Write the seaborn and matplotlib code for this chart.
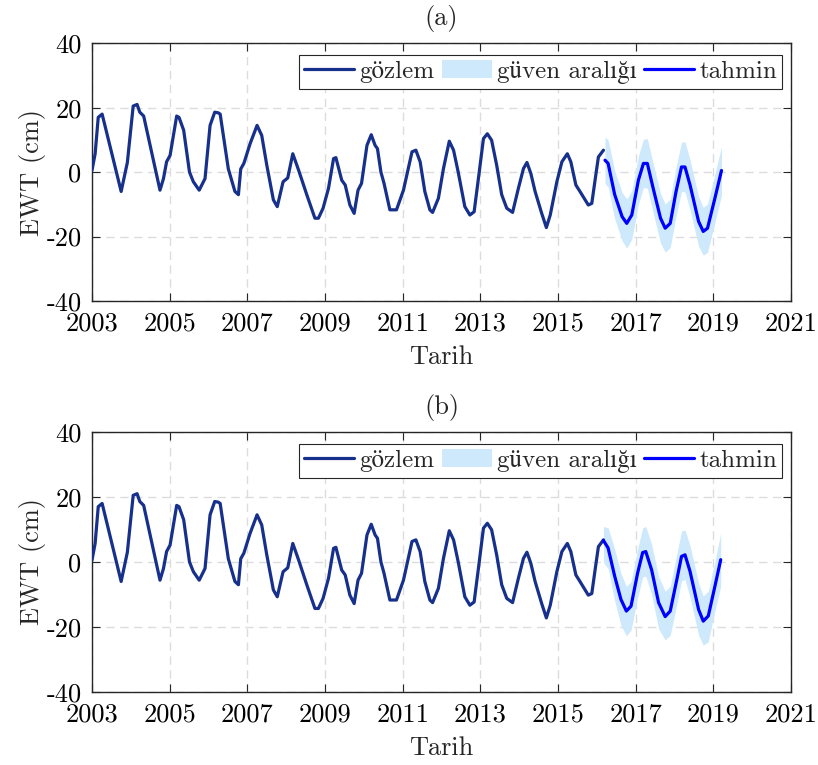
import matplotlib
matplotlib.use("Agg")
import matplotlib.pyplot as plt
import seaborn as sns
from matplotlib.lines import Line2D
from matplotlib.patches import Patch

# gözlenen EWT (cm)
obs_year = [2003.00, 2003.08, 2003.16, 2003.26, 2003.75, 2003.91, 2004.06, 2004.16, 2004.23, 2004.33,
            2004.75, 2004.84, 2004.92, 2005.01, 2005.18, 2005.24, 2005.36, 2005.51, 2005.61, 2005.76,
            2005.91, 2006.04, 2006.16, 2006.25, 2006.30, 2006.51, 2006.68, 2006.77, 2006.83, 2006.91,
            2007.07, 2007.25, 2007.37, 2007.50, 2007.67, 2007.77, 2007.92, 2008.04, 2008.17, 2008.32,
            2008.53, 2008.74, 2008.83, 2008.95, 2009.09, 2009.22, 2009.28, 2009.43, 2009.52, 2009.64,
            2009.75, 2009.85, 2009.94, 2010.08, 2010.19, 2010.29, 2010.35, 2010.44, 2010.52, 2010.67,
            2010.84, 2011.02, 2011.24, 2011.34, 2011.45, 2011.57, 2011.70, 2011.77, 2011.92, 2012.05,
            2012.20, 2012.31, 2012.43, 2012.60, 2012.73, 2012.84, 2012.95, 2013.08, 2013.18, 2013.29,
            2013.42, 2013.55, 2013.68, 2013.83, 2013.98, 2014.11, 2014.20, 2014.30, 2014.41, 2014.58,
            2014.70, 2014.80, 2014.97, 2015.10, 2015.24, 2015.33, 2015.46, 2015.56, 2015.78, 2015.87,
            2015.96, 2016.04, 2016.17]
obs_ewt = [0.6, 5.7, 17.0, 18.0, -6.0, 3.0, 20.5, 21.0, 18.6, 17.4,
           -5.6, -2.0, 3.2, 5.2, 17.4, 17.0, 13.0, 0.0, -3.0, -5.6,
           -2.0, 14.5, 18.6, 18.4, 18.0, 1.0, -6.0, -7.0, 1.0, 2.7,
           8.8, 14.5, 11.4, 2.2, -8.6, -10.7, -3.0, -1.8, 5.7, 0.6,
           -7.0, -14.3, -14.3, -11.2, -5.0, 4.2, 4.5, -2.5, -4.0, -10.2,
           -12.8, -5.6, -3.5, 8.3, 11.6, 8.3, 7.3, 0.0, -3.5, -11.7,
           -11.7, -5.6, 6.3, 6.8, 3.2, -6.0, -11.7, -12.5, -8.1, 1.1,
           9.6, 6.8, 0.0, -10.7, -13.3, -12.3, -2.0, 10.4, 11.9, 9.9,
           2.2, -7.0, -11.2, -12.5, -5.0, 1.1, 3.0, -0.4, -6.0, -12.8,
           -17.2, -13.3, -3.0, 3.2, 5.7, 3.2, -4.0, -5.9, -10.2, -9.7,
           -2.0, 4.7, 6.8]

# (a) tahmin ve güven aralığı
fc_year_a = [2016.21, 2016.29, 2016.46, 2016.65, 2016.77, 2016.90, 2017.07, 2017.20, 2017.30, 2017.45, 2017.64,
             2017.76, 2017.89, 2018.04, 2018.18, 2018.27, 2018.40, 2018.62, 2018.74, 2018.85, 2019.04, 2019.21]
fc_ewt_a = [3.7, 2.7, -7.0, -13.8, -15.9, -13.3, -2.5, 2.7, 2.7, -5.0, -14.3,
            -17.4, -15.9, -6.0, 1.6, 1.6, -4.0, -15.3, -18.4, -17.4, -8.1, 0.5]
ci_up_a = [10.9, 10.0, 0.5, -6.3, -8.3, -5.8, 5.0, 10.2, 10.4, 2.7, -6.6,
           -9.9, -8.4, 1.6, 9.3, 9.4, 3.7, -7.6, -10.9, -9.9, -0.6, 8.0]
ci_lo_a = [-3.5, -4.6, -14.5, -21.3, -23.6, -20.8, -10.0, -4.8, -5.0, -12.7, -22.0,
           -24.8, -23.4, -13.6, -6.0, -6.2, -11.7, -23.0, -25.8, -24.9, -15.6, -7.2]

# (b) tahmin ve güven aralığı
fc_year_b = [2016.17, 2016.29, 2016.46, 2016.62, 2016.76, 2016.88, 2017.05, 2017.18, 2017.26, 2017.41, 2017.59,
             2017.76, 2017.89, 2018.06, 2018.18, 2018.27, 2018.40, 2018.62, 2018.74, 2018.87, 2019.04, 2019.19]
fc_ewt_b = [6.6, 4.3, -4.4, -11.5, -15.1, -13.6, -3.4, 2.9, 3.2, -2.4, -12.5,
            -16.8, -15.1, -5.4, 1.7, 2.2, -2.9, -14.6, -18.2, -16.6, -7.5, 0.7]
ci_up_b = [10.9, 10.5, 4.0, -3.5, -7.5, -6.0, 4.0, 10.5, 10.9, 5.5, -4.5,
           -9.0, -7.5, 2.5, 9.5, 9.9, 5.0, -6.5, -10.5, -9.0, 0.0, 8.9]
ci_lo_b = [-0.2, -2.0, -12.0, -19.5, -22.7, -21.0, -11.0, -4.6, -4.4, -10.0, -20.5,
           -24.0, -22.5, -13.0, -5.8, -5.4, -11.0, -22.5, -25.6, -24.5, -15.0, -7.5]

x_ticks = list(range(2003, 2022, 2))
y_ticks = [-40, -20, 0, 20, 40]
labels = ["gözlem", "güven aralığı", "tahmin"]

c_obs = "#16308c"
c_fc = "#0000ff"
c_ci = "#cde9fb"

sns.set_theme(style="ticks")
plt.rcParams["font.family"] = ["cmr10", "STIXGeneral"]
plt.rcParams["mathtext.fontset"] = "cm"
plt.rcParams["axes.formatter.use_mathtext"] = True

fs = 19
fig = plt.figure(figsize=(8.18, 7.65), dpi=100)
ax_a = fig.add_axes([0.1125, 0.6065, 0.8545, 0.337])
ax_b = fig.add_axes([0.1125, 0.0954, 0.8545, 0.340])

panels = [
    (ax_a, "(a)", fc_year_a, fc_ewt_a, ci_up_a, ci_lo_a),
    (ax_b, "(b)", fc_year_b, fc_ewt_b, ci_up_b, ci_lo_b),
]

for ax, title, fy, fv, up, lo in panels:
    ax.fill_between(fy, lo, up, color=c_ci, linewidth=0, zorder=1)
    sns.lineplot(x=obs_year, y=obs_ewt, ax=ax, color=c_obs, linewidth=2.3,
                 sort=False, estimator=None, zorder=3)
    sns.lineplot(x=fy, y=fv, ax=ax, color=c_fc, linewidth=2.3,
                 sort=False, estimator=None, zorder=4)

    ax.set_xlim(2003, 2021)
    ax.set_ylim(-40, 40)
    ax.set_xticks(x_ticks)
    ax.set_yticks(y_ticks)
    ax.set_xticklabels([str(t) for t in x_ticks])
    ax.set_yticklabels([str(t) for t in y_ticks])
    ax.grid(True, color="#dcdcdc", linestyle=(0, (6, 4)), linewidth=1.0)
    ax.set_axisbelow(True)
    for s in ax.spines.values():
        s.set_visible(True)
        s.set_color("#262626")
        s.set_linewidth(1.0)
    ax.tick_params(direction="in", length=6, width=0.8, top=True, right=True,
                   labelsize=fs, colors="#262626", labelcolor="black", pad=7.5)
    ax.set_title(title, fontsize=fs, pad=13)
    ax.set_xlabel("Tarih", fontsize=fs, labelpad=7)
    ax.set_ylabel("EWT (cm)", fontsize=fs, labelpad=0)

    handles = [
        Line2D([0], [0], color=c_obs, linewidth=2.3),
        Patch(facecolor=c_ci, edgecolor="none"),
        Line2D([0], [0], color=c_fc, linewidth=2.3),
    ]
    leg = ax.legend(handles, labels, ncol=3, loc="upper right",
                    bbox_to_anchor=(1 - 9 / 699, 1 - 12 / 258), borderaxespad=0,
                    fontsize=18, frameon=True, fancybox=False, framealpha=1,
                    edgecolor="#262626", borderpad=0.2, handlelength=2.0,
                    handletextpad=0.2, columnspacing=0.3)
    leg.get_frame().set_linewidth(0.8)

fig.savefig("out.png", dpi=100)
